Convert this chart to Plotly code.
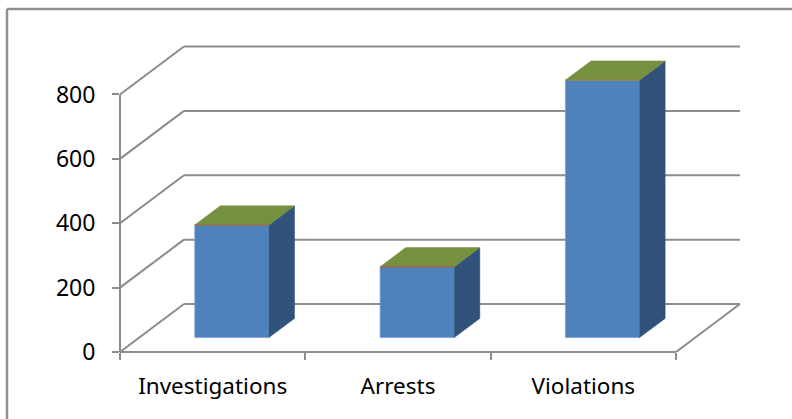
import plotly.graph_objects as go

categories = ["Investigations", "Arrests", "Violations"]
values = [350, 220, 800]
y_ticks = [0, 200, 400, 600, 800]
top_edge_colors = ["#b4603c", "#b4503c", "#a08a40"]

# Oblique projection of the depth axis, in data units
DEPTH_X = 0.345
DEPTH_Y = 149.0
BAR_WIDTH = 0.4
NEAR, FAR = 0.3, 0.7

GRID = "#8c8c8c"
FRONT, SIDE, TOP = "#4f81bd", "#31527b", "#759140"
FONT = "Noto Sans"

W, H = 792, 419
L, R, T, B = 120, 50, 41, 67
X_MAX = (W - L - R) / 185.33
Y_MAX = (H - T - B) / 0.3219

def px_x(p):
    return (p - L) / (W - L - R)

def px_y(p):
    return (H - B - p) / (H - T - B)

fig = go.Figure()
shapes = []

def grid_line(xs, ys, width=2):
    for x0, y0, x1, y1 in zip(xs, ys, xs[1:], ys[1:]):
        shapes.append(dict(type="line", xref="x", yref="y", x0=x0, y0=y0, x1=x1, y1=y1,
                           layer="below", line=dict(color=GRID, width=width)))

def line(xs, ys, color, width=1):
    fig.add_trace(go.Scatter(x=xs, y=ys, mode="lines", hoverinfo="skip", showlegend=False,
                             line=dict(color=color, width=width), cliponaxis=False))

def face(xs, ys, color):
    fig.add_trace(go.Scatter(x=xs, y=ys, mode="lines", fill="toself", fillcolor=color,
                             hoverinfo="skip", showlegend=False,
                             line=dict(color=color, width=0.5), cliponaxis=False))

n = len(categories)
# Walls: side-wall diagonals and back-wall gridlines
for t in y_ticks:
    grid_line([0, DEPTH_X, n + DEPTH_X], [t, t + DEPTH_Y, t + DEPTH_Y])
# Floor right edge
grid_line([n, n + DEPTH_X], [0, DEPTH_Y])
# Floor front edge and value axis sit on the plot boundary, so they use a paper
# reference on the boundary side to avoid being clipped in half
shapes.append(dict(type="line", xref="x", yref="paper", x0=0, x1=n, y0=0, y1=0,
                   layer="below", line=dict(color=GRID, width=2)))
shapes.append(dict(type="line", xref="paper", yref="y", x0=0, x1=0, y0=0, y1=max(y_ticks),
                   layer="below", line=dict(color=GRID, width=2)))

# Front faces
centers = [i + 0.5 + NEAR * DEPTH_X for i in range(n)]
fig.add_trace(go.Bar(x=centers, y=values, base=[NEAR * DEPTH_Y] * n, width=BAR_WIDTH,
                     marker=dict(color=FRONT, line=dict(color="#7ea2d0", width=0.8)),
                     showlegend=False, hoverinfo="skip"))

# Side and top faces, projected from the values
d = FAR - NEAR
for c, v, edge in zip(centers, values, top_edge_colors):
    x0, x1 = c - BAR_WIDTH / 2, c + BAR_WIDTH / 2
    b = NEAR * DEPTH_Y
    ox, oy = d * DEPTH_X, d * DEPTH_Y
    face([x1, x1 + ox, x1 + ox, x1, x1], [b, b + oy, b + v + oy, b + v, b], SIDE)
    face([x0, x1, x1 + ox, x0 + ox, x0], [b + v, b + v, b + v + oy, b + v + oy, b + v], TOP)
    line([x0, x1], [b + v, b + v], edge)

def frame(x0, y0, x1, y1):
    return dict(type="line", xref="paper", yref="paper", x0=px_x(x0), y0=px_y(y0),
                x1=px_x(x1), y1=px_y(y1), layer="below", line=dict(color="#8f8f8f", width=2.5))

shapes += [frame(7, 9, W, 9), frame(7, 9, 7, H)]

fig.update_layout(
    width=W, height=H, autosize=False,
    margin=dict(l=L, r=R, t=T, b=B, pad=0),
    paper_bgcolor="white", plot_bgcolor="rgba(0,0,0,0)",
    barmode="overlay",
    font=dict(family=FONT, color="#000000"),
    shapes=shapes,
    xaxis=dict(range=[0, X_MAX], tickvals=[i + 0.5 for i in range(n)], ticktext=categories,
               ticks="", showgrid=False, zeroline=False, showline=False,
               tickfont=dict(size=22.5, family=FONT), ticklabelstandoff=18,
               minor=dict(tickvals=list(range(n + 1)), ticks="outside", ticklen=7,
                          tickcolor=GRID, tickwidth=2, showgrid=False)),
    yaxis=dict(range=[0, Y_MAX], tickvals=y_ticks, ticks="outside", ticklen=7,
               tickcolor=GRID, tickwidth=2, showgrid=False, zeroline=False, showline=False,
               tickfont=dict(size=23, family=FONT), ticklabelstandoff=12),
)

fig.write_html("out.html", config={"displayModeBar": False},
               post_script="document.body.style.margin='0';")
